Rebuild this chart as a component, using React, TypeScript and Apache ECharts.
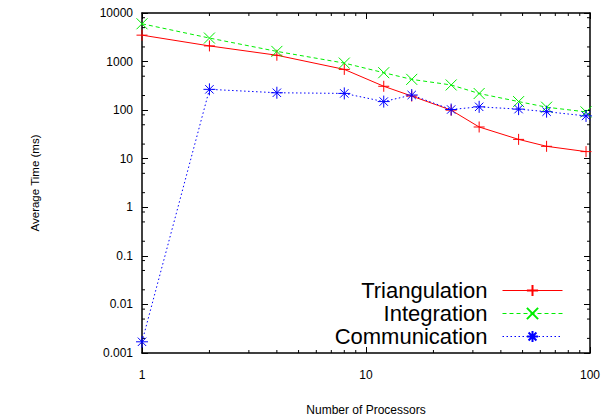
import React, { useEffect, useRef } from "react";
import * as echarts from "echarts";

const processors = [1, 2, 4, 8, 12, 16, 24, 32, 48, 64, 96];
const triangulation = [3500, 2100, 1350, 690, 310, 195, 100, 45, 25, 18, 14];
const integration = [6000, 3050, 1620, 930, 590, 430, 330, 220, 150, 115, 92];
const communication = [0.0017, 268, 228, 221, 150, 205, 103, 117, 105, 93, 76];

const yTickLabels = ["0.001", "0.01", "0.1", "1", "10", "100", "1000", "10000"];
const xTickLabels = ["1", "10", "100"];
const xMinorTicks = [2, 3, 4, 5, 6, 7, 8, 9, 20, 30, 40, 50, 60, 70, 80, 90];
const yMinorTicks = [
  0.002, 0.005, 0.008, 0.02, 0.05, 0.08, 0.2, 0.5, 0.8, 2, 5, 8, 20, 50, 80,
  200, 500, 800, 2000, 5000, 8000,
];

const FONT = "'Liberation Sans', Arial, Helvetica, sans-serif";
const PLUS = "path://M5,0L5,10M0,5L10,5";
const CROSS = "path://M0,0L10,10M0,10L10,0";
const STAR = "path://M5,0L5,10M0,5L10,5M1.5,1.5L8.5,8.5M1.5,8.5L8.5,1.5";

export default function App() {
  const ref = useRef<HTMLDivElement>(null);
  useEffect(() => {
    if (!ref.current) return;
    const chart = echarts.init(ref.current, null, { renderer: "svg" });
    const mk = (arr: number[]) => processors.map((p, i) => [p, arr[i]]);
    const fmtY = (v: number) => yTickLabels[Math.round(Math.log10(v)) + 3] ?? "";
    const fmtX = (v: number) => xTickLabels[Math.round(Math.log10(v))] ?? "";
    const axisCommon = {
      axisLine: { show: true, lineStyle: { color: "#000", width: 1.5 } },
      axisTick: { show: true, inside: true, length: 6, lineStyle: { color: "#000", width: 1 } },
      splitLine: { show: false },
    };
    const lineSeries = (name: string, data: number[], color: string, type: any, symbol: string, size: number) => ({
      name,
      type: "line",
      data: mk(data),
      symbol,
      symbolSize: size,
      showSymbol: true,
      lineStyle: { color, width: 1, type },
      itemStyle: { color: "none", borderColor: color, borderWidth: 1 },
      xAxisIndex: 0,
      yAxisIndex: 0,
      z: 3,
    });
    chart.setOption({
      animation: false,
      backgroundColor: "#fff",
      grid: { left: 142, top: 13, right: 20, bottom: 65, containLabel: false, outerBoundsMode: "none" },
      xAxis: [
        {
          type: "log",
          logBase: 10,
          min: 1,
          max: 100,
          position: "bottom",
          ...axisCommon,
          axisLabel: { formatter: fmtX, margin: 16, fontSize: 12, color: "#000", fontFamily: FONT },
          name: "Number of Processors",
          nameLocation: "middle",
          nameGap: 51,
          nameTextStyle: { fontSize: 12, color: "#000", fontFamily: FONT },
        },
        {
          type: "log",
          logBase: 10,
          min: 1,
          max: 100,
          position: "top",
          ...axisCommon,
          axisLabel: { show: false },
        },
      ],
      yAxis: [
        {
          type: "log",
          logBase: 10,
          min: 0.001,
          max: 10000,
          position: "left",
          ...axisCommon,
          axisLabel: { formatter: fmtY, margin: 9, fontSize: 12, color: "#000", fontFamily: FONT },
          name: "Average Time (ms)",
          nameLocation: "middle",
          nameGap: 101,
          nameRotate: 90,
          nameTextStyle: { fontSize: 11.5, color: "#000", fontFamily: FONT },
        },
        {
          type: "log",
          logBase: 10,
          min: 0.001,
          max: 10000,
          position: "right",
          ...axisCommon,
          axisLabel: { show: false },
        },
      ],
      legend: {
        data: ["Triangulation", "Integration", "Communication"],
        orient: "vertical",
        align: "right",
        right: 47,
        bottom: 70,
        padding: 0,
        itemGap: 0,
        itemWidth: 60,
        itemHeight: 14,
        lineStyle: { width: 1 },
        textStyle: {
          fontSize: 22,
          lineHeight: 23,
          color: "#000",
          fontFamily: FONT,
          padding: [0, 10, 0, 0],
        },
      },
      series: [
        lineSeries("Triangulation", triangulation, "#ff0000", "solid", PLUS, 11),
        lineSeries("Integration", integration, "#00ee00", [4, 3], CROSS, 11),
        lineSeries("Communication", communication, "#0000ff", [1.5, 2.5], STAR, 12),
        {
          type: "custom",
          silent: true,
          xAxisIndex: 0,
          yAxisIndex: 0,
          data: xMinorTicks.map((v) => [v, 1]),
          renderItem: (params: any, api: any) => {
            const x = api.value(0);
            const b = api.coord([x, 0.001]);
            const t = api.coord([x, 10000]);
            const st = { stroke: "#000", lineWidth: 1 };
            return {
              type: "group",
              children: [
                { type: "line", shape: { x1: b[0], y1: b[1], x2: b[0], y2: b[1] - 3 }, style: st },
                { type: "line", shape: { x1: t[0], y1: t[1], x2: t[0], y2: t[1] + 3 }, style: st },
              ],
            };
          },
          z: 2,
        },
        {
          type: "custom",
          silent: true,
          xAxisIndex: 0,
          yAxisIndex: 0,
          data: yMinorTicks.map((v) => [2, v]),
          renderItem: (params: any, api: any) => {
            const y = api.value(1);
            const l = api.coord([1, y]);
            const r = api.coord([100, y]);
            const st = { stroke: "#000", lineWidth: 1 };
            return {
              type: "group",
              children: [
                { type: "line", shape: { x1: l[0], y1: l[1], x2: l[0] + 3, y2: l[1] }, style: st },
                { type: "line", shape: { x1: r[0], y1: r[1], x2: r[0] - 3, y2: r[1] }, style: st },
              ],
            };
          },
          z: 2,
        },
      ],
    });
    return () => chart.dispose();
  }, []);
  return <div ref={ref} style={{ width: 610, height: 418, position: "absolute", left: 0, top: 0 }} />;
}
